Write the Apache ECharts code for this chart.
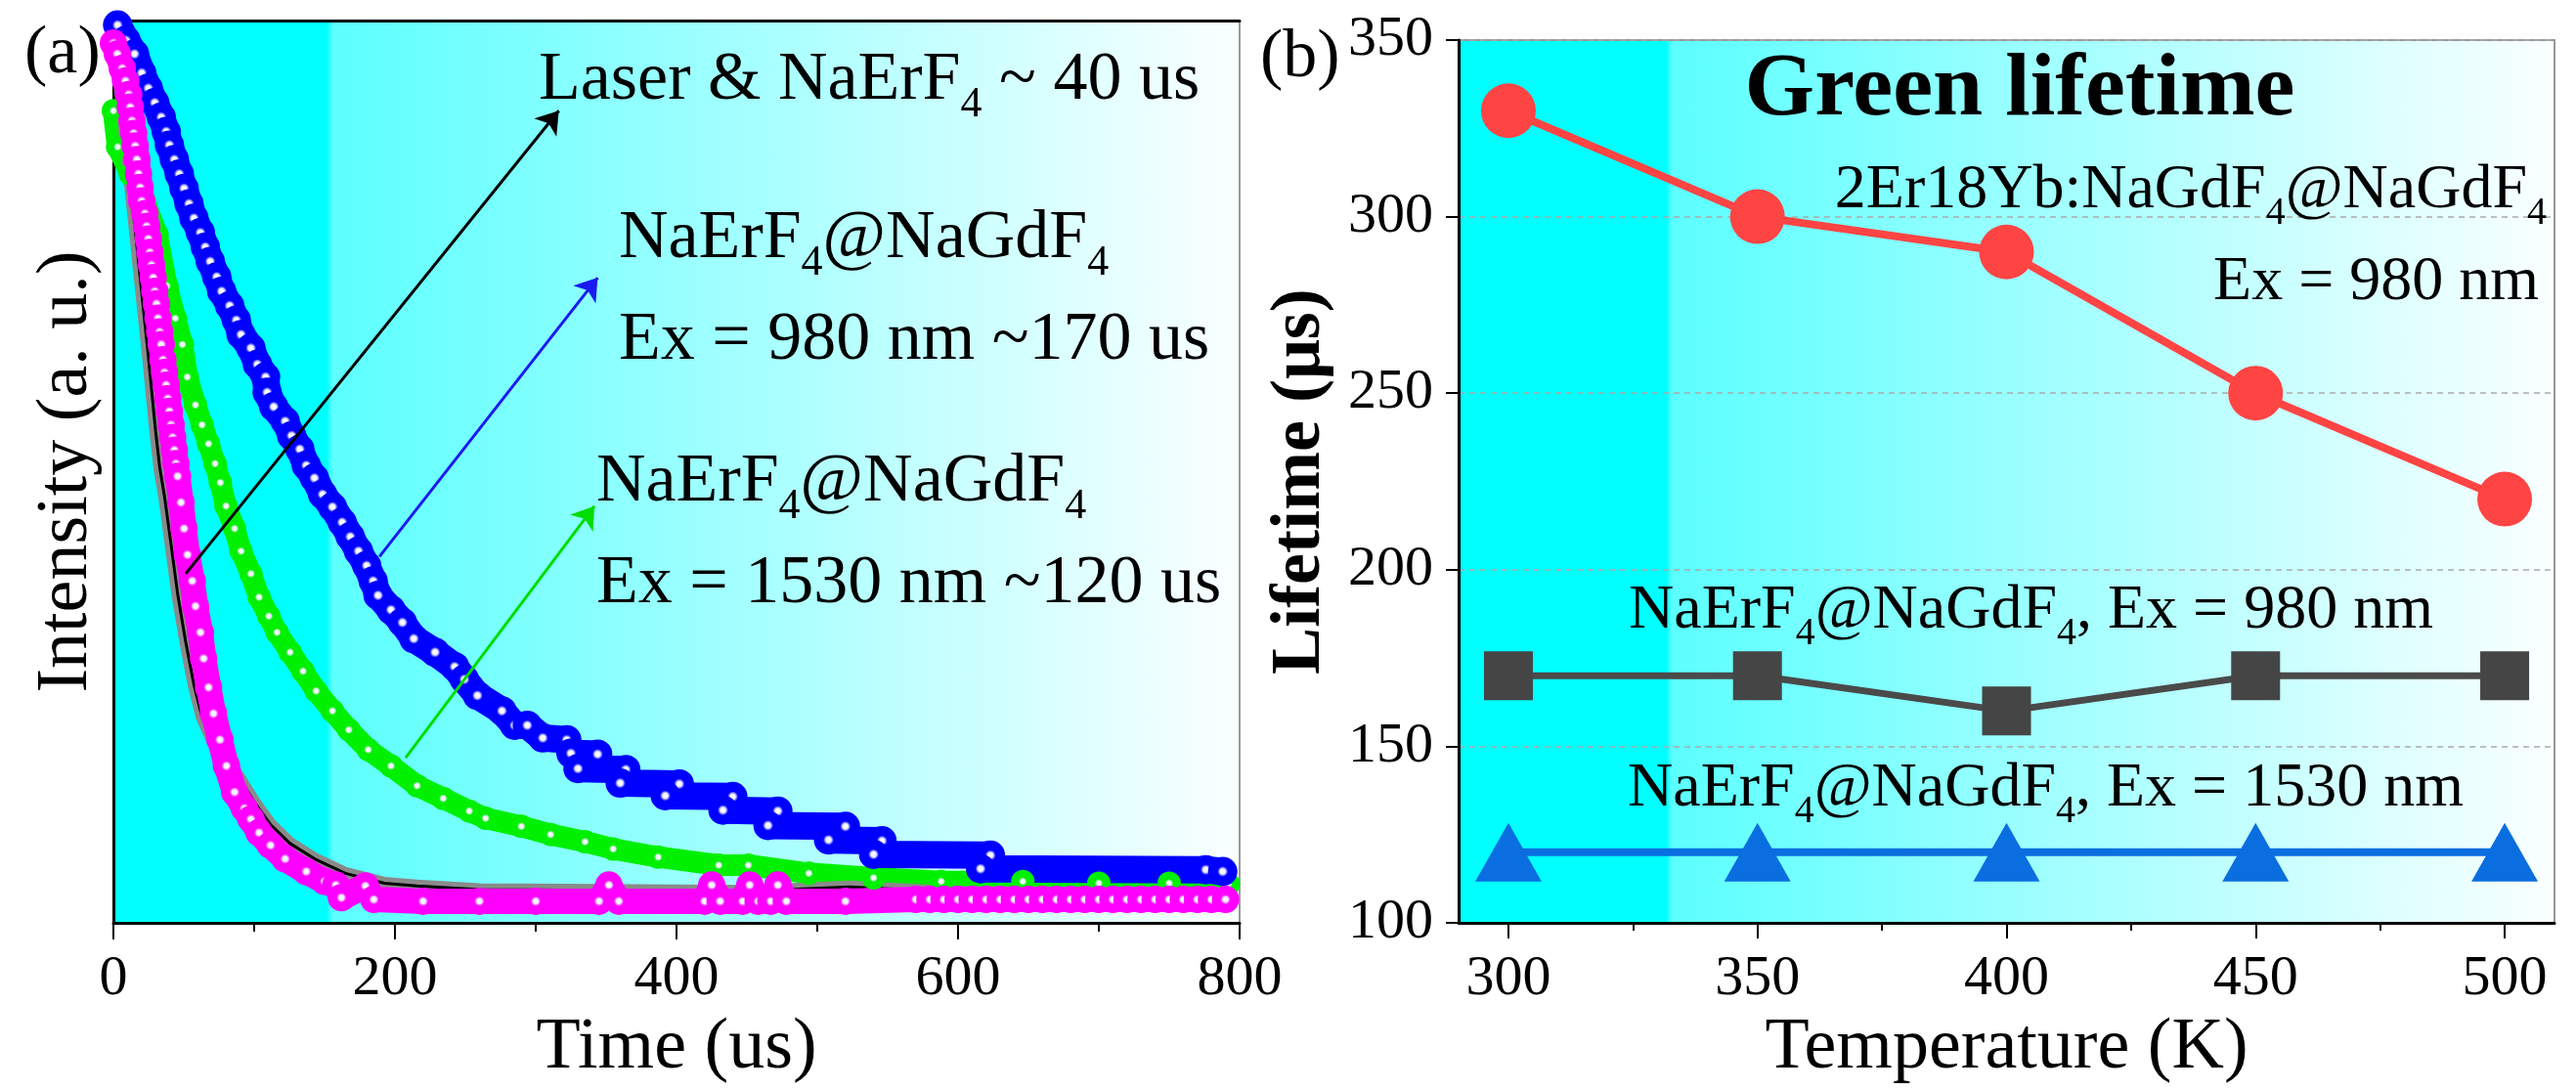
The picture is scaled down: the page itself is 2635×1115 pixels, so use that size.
<!doctype html>
<html>
<head>
<meta charset="utf-8"/>
<title>Green lifetime</title>
<script src="https://cdn.jsdelivr.net/npm/echarts@6.0.0/dist/echarts.min.js"></script>
<style>
body { margin: 0; background: #fff; }
#main { width: 2635px; height: 1115px; }
</style>
</head>
<body>
<div id="main"></div>
<script>
const FONT = 'Liberation Serif';

// (a) decay curves: [time (us), normalised intensity]
const decayGreen = [[0,0.90],[3,0.86],[12,0.83],[22,0.80],[31,0.763],[38,0.706],[44,0.67],[49,0.641],[52.5,0.605],[58.3,0.574],[63,0.552],[67.6,0.531],[72.2,0.509],[76,0.488],[80,0.462],[86.1,0.437],[90.7,0.412],[97.7,0.387],[103.5,0.361],[110.4,0.340],[116.2,0.322],[125.5,0.300],[134.7,0.279],[144,0.257],[155.6,0.235],[167.2,0.214],[181,0.192],[197.2,0.174],[215.7,0.152],[234.3,0.138],[252.8,0.124],[264.4,0.116],[289.8,0.107],[310.6,0.098],[335,0.090],[355,0.082],[387,0.073],[430,0.064],[451,0.064],[494,0.055],[540,0.050],[588,0.046],[646,0.046],[700,0.044],[750,0.044],[792,0.043]];
const decayBlue = [[3,0.995],[9,0.978],[15,0.963],[20.1,0.942],[24.8,0.925],[29.4,0.909],[34,0.893],[37.5,0.877],[39.8,0.862],[43.3,0.846],[46.8,0.830],[50.2,0.814],[53.7,0.797],[57.2,0.781],[61.8,0.765],[65.3,0.749],[68.8,0.733],[73.4,0.716],[76.9,0.700],[82.6,0.684],[87.3,0.668],[90.7,0.652],[97.7,0.637],[102.3,0.619],[108.1,0.605],[109.2,0.588],[113.9,0.572],[122,0.556],[126.6,0.540],[132.4,0.525],[137,0.507],[142.8,0.493],[148.6,0.475],[155.6,0.461],[162.5,0.444],[168.3,0.428],[174.1,0.412],[179.9,0.396],[184.5,0.379],[188,0.363],[197.2,0.347],[205.3,0.333],[213.4,0.315],[228.5,0.300],[242.4,0.284],[249.3,0.270],[258.6,0.252],[276,0.235],[285,0.219],[294,0.219],[305,0.205],[322,0.203],[325,0.188],[344,0.187],[330,0.171],[364,0.170],[360,0.155],[402,0.154],[392,0.141],[440,0.140],[433,0.125],[472,0.124],[465,0.108],[520,0.107],[508,0.092],[546,0.091],[540,0.076],[623,0.075],[616,0.060],[776,0.059],[788,0.057]];
const decayLaser = [[0,1.0],[5,0.925],[10,0.85],[15,0.775],[20,0.70],[25,0.625],[30,0.545],[32.9,0.505],[36.3,0.473],[41,0.419],[45.6,0.365],[51.4,0.311],[57.2,0.264],[63,0.228],[72.2,0.196],[88.4,0.163],[100,0.134],[111.6,0.109],[125.5,0.088],[144,0.070],[164.8,0.055],[192.6,0.044],[215.7,0.041],[260,0.037],[350,0.036],[450,0.035],[523,0.040],[600,0.034],[700,0.033],[775,0.033]];
const decayMagenta = [[0,0.975],[2.8,0.963],[6.3,0.947],[8.6,0.933],[10.9,0.918],[12,0.904],[13.2,0.889],[14.4,0.875],[15.5,0.861],[16.7,0.846],[17.8,0.830],[19,0.815],[20.1,0.800],[22.4,0.786],[23.6,0.772],[24.8,0.758],[25.9,0.743],[27.1,0.729],[28.3,0.715],[29.4,0.700],[30.6,0.686],[31.7,0.670],[32.9,0.655],[34,0.641],[35.2,0.624],[36.3,0.610],[37.5,0.596],[38.7,0.581],[39.8,0.567],[41,0.552],[42.1,0.538],[43.3,0.524],[44.4,0.509],[45.6,0.495],[48,0.466],[50.2,0.437],[52.6,0.408],[56,0.379],[58.3,0.351],[61.8,0.322],[64.1,0.293],[67.6,0.261],[71.1,0.232],[75.7,0.203],[80.3,0.174],[86.1,0.145],[93,0.127],[97.7,0.115],[103.5,0.100],[111.6,0.086],[122,0.071],[137,0.057],[150,0.046],[158,0.042],[162,0.028],[179,0.041],[185,0.026],[220,0.024],[260,0.024],[300,0.024],[345,0.024],[352,0.042],[359,0.024],[420,0.024],[425,0.042],[431,0.024],[447,0.024],[452,0.042],[458,0.024],[467,0.024],[472,0.042],[478,0.024],[520,0.024],[570,0.026],[580,0.026],[590,0.026],[600,0.026],[610,0.026],[620,0.026],[630,0.026],[640,0.026],[650,0.026],[660,0.026],[670,0.026],[680,0.026],[690,0.026],[700,0.026],[710,0.026],[720,0.026],[730,0.026],[740,0.026],[750,0.026],[760,0.026],[770,0.026],[780,0.026],[790,0.026]];

// arrows from the curves to their labels: [time, intensity]
const arrowLaser = [[51.4,0.387],[316.4,0.900]];
const arrowBlue = [[189,0.406],[344,0.715]];
const arrowGreen = [[207.6,0.183],[341.7,0.462]];

// (b) lifetime vs temperature
const temps = [300,350,400,450,500];
const lifeCore = [330,300,290,250,220];
const life980 = [170,170,160,170,170];
const life1530 = [120,120,120,120,120];
const tempTicks = [300,350,400,450,500];
const tempMinor = [325,375,425,475];

const chart = echarts.init(document.getElementById('main'));

function bg() {
    return new echarts.graphic.LinearGradient(0, 0, 1, 0, [
        {offset: 0, color: '#00ffff'},
        {offset: 0.19, color: '#00ffff'},
        {offset: 0.195, color: '#5cffff'},
        {offset: 1, color: '#fbffff'}
    ]);
}

function bead(color) {
    return new echarts.graphic.RadialGradient(0.5, 0.5, 0.5, [
        {offset: 0, color: '#ffffff'},
        {offset: 0.18, color: '#eeeeff'},
        {offset: 0.36, color: color},
        {offset: 1, color: color}
    ]);
}

function decay(data, color, size, width) {
    return {
        type: 'line', xAxisIndex: 0, yAxisIndex: 0, data: data,
        symbol: 'circle', symbolSize: size, silent: true,
        lineStyle: {color: color, width: width, cap: 'round', join: 'round'},
        itemStyle: {color: bead(color)},
        emphasis: {disabled: true}
    };
}

function arrow(pts, color) {
    return [{coord: pts[0], lineStyle: {color: color, width: 3, type: 'solid'}}, {coord: pts[1]}];
}

function richLabel(text, x, y, fs, sub, align) {
    const lh = Math.round(fs * 1.15);
    const pad = Math.round(2 * (15 + 0.3375 * (fs - sub)));
    return {
        type: 'text', x: x, y: y, silent: true, z: 100,
        style: {
            text: text, fontFamily: FONT, fontSize: fs, fill: '#000',
            align: align, verticalAlign: 'middle', lineHeight: lh,
            rich: {s: {fontFamily: FONT, fontSize: sub, fill: '#000', lineHeight: lh, padding: [pad, 0, 0, 0]}}
        }
    };
}

const axisBlack = {show: true, onZero: false, lineStyle: {color: '#000', width: 3}};
const tickFont = {fontFamily: FONT, fontSize: 58, color: '#000'};
const nameFont = {fontFamily: FONT, fontSize: 74, color: '#000'};

chart.setOption({
    animation: false,
    grid: [
        {left: 116, top: 21, width: 1152, height: 925, show: true, backgroundColor: bg(), borderColor: '#999', borderWidth: 2},
        {left: 1492, top: 41, width: 1121, height: 906, show: true, backgroundColor: bg(), borderColor: '#999', borderWidth: 2}
    ],
    xAxis: [
        {
            gridIndex: 0, type: 'value', min: 0, max: 800, interval: 200, position: 'bottom',
            axisLine: axisBlack,
            axisTick: {show: true, inside: false, length: 17, lineStyle: {color: '#000', width: 2}},
            minorTick: {show: true, splitNumber: 2, length: 9, lineStyle: {color: '#000', width: 2}},
            axisLabel: Object.assign({margin: 29}, tickFont),
            splitLine: {show: false},
            name: 'Time (us)', nameLocation: 'middle', nameGap: 73, nameTextStyle: nameFont
        },
        {
            gridIndex: 0, type: 'value', min: 0, max: 800, position: 'top',
            axisLine: axisBlack, axisTick: {show: false}, axisLabel: {show: false}, splitLine: {show: false}
        },
        {
            gridIndex: 1, type: 'value', min: 290, max: 510, position: 'bottom',
            axisLine: axisBlack,
            axisTick: {show: true, inside: false, customValues: tempTicks, length: 16, lineStyle: {color: '#000', width: 2}},
            axisLabel: Object.assign({margin: 29, customValues: tempTicks}, tickFont),
            splitLine: {show: false},
            name: 'Temperature (K)', nameLocation: 'middle', nameGap: 73, nameTextStyle: nameFont
        },
        {
            gridIndex: 1, type: 'value', min: 290, max: 510, position: 'bottom',
            axisLine: {show: false},
            axisTick: {show: true, inside: false, customValues: tempMinor, length: 8, lineStyle: {color: '#000', width: 2}},
            axisLabel: {show: false}, splitLine: {show: false}
        }
    ],
    yAxis: [
        {
            gridIndex: 0, type: 'value', min: 0, max: 1, position: 'left',
            axisLine: axisBlack, axisTick: {show: false}, axisLabel: {show: false}, splitLine: {show: false},
            name: 'Intensity (a. u.)', nameLocation: 'middle', nameGap: 10, nameTextStyle: nameFont
        },
        {
            gridIndex: 1, type: 'value', min: 100, max: 350, interval: 50, position: 'left',
            axisLine: axisBlack,
            axisTick: {show: true, inside: false, length: 13, lineStyle: {color: '#000', width: 2}},
            axisLabel: Object.assign({margin: 26}, tickFont),
            splitLine: {show: true, lineStyle: {color: '#aaa', width: 1.5, type: [6, 5]}},
            name: 'Lifetime (μs)', nameLocation: 'middle', nameGap: 126,
            nameTextStyle: {fontFamily: FONT, fontSize: 72, fontWeight: 'bold', color: '#000'}
        }
    ],
    series: [
        decay(decayGreen, '#00f000', 24, 22),
        decay(decayBlue, '#0000ff', 30, 28),
        {
            type: 'line', xAxisIndex: 0, yAxisIndex: 0, data: decayLaser, symbol: 'none', silent: true,
            lineStyle: {color: '#8a8a8a', width: 13, cap: 'round', join: 'round'}
        },
        {
            type: 'line', xAxisIndex: 0, yAxisIndex: 0, data: decayLaser, symbol: 'none', silent: true,
            lineStyle: {color: '#000', width: 3}
        },
        decay(decayMagenta, '#ff00ff', 28, 26),
        {
            type: 'line', xAxisIndex: 0, yAxisIndex: 0, data: [], silent: true,
            markLine: {
                silent: true, symbol: ['none', 'arrow'], symbolSize: 22,
                label: {show: false}, emphasis: {disabled: true},
                data: [arrow(arrowLaser, '#000'), arrow(arrowBlue, '#1a1af0'), arrow(arrowGreen, '#00dd00')]
            }
        },
        {
            type: 'line', xAxisIndex: 2, yAxisIndex: 1, silent: true,
            data: temps.map((t, i) => [t, lifeCore[i]]),
            symbol: 'circle', symbolSize: 56,
            lineStyle: {color: '#ff4444', width: 8}, itemStyle: {color: '#ff4444'}
        },
        {
            type: 'line', xAxisIndex: 2, yAxisIndex: 1, silent: true,
            data: temps.map((t, i) => [t, life980[i]]),
            symbol: 'rect', symbolSize: 50,
            lineStyle: {color: '#4a4a4a', width: 7}, itemStyle: {color: '#454545'}
        },
        {
            type: 'line', xAxisIndex: 2, yAxisIndex: 1, silent: true,
            data: temps.map((t, i) => [t, life1530[i]]),
            symbol: 'triangle', symbolSize: [68, 60],
            lineStyle: {color: '#0a6ee0', width: 8}, itemStyle: {color: '#0a6ee0'}
        }
    ],
    graphic: [
        {type: 'text', x: 25, y: 56, silent: true, style: {text: '(a)', fontFamily: FONT, fontSize: 70, fill: '#000', align: 'left', verticalAlign: 'middle'}},
        {type: 'text', x: 1289, y: 60, silent: true, style: {text: '(b)', fontFamily: FONT, fontSize: 70, fill: '#000', align: 'left', verticalAlign: 'middle'}},
        richLabel('Laser & NaErF{s|4} ~ 40 us', 551, 83, 70, 44, 'left'),
        richLabel('NaErF{s|4}@NaGdF{s|4}', 633, 245, 70, 44, 'left'),
        richLabel('Ex = 980 nm ~170 us', 633, 349, 70, 44, 'left'),
        richLabel('NaErF{s|4}@NaGdF{s|4}', 610, 494, 70, 44, 'left'),
        richLabel('Ex = 1530 nm ~120 us', 610, 598, 70, 44, 'left'),
        {type: 'text', x: 2066, y: 93, silent: true, z: 100, style: {text: 'Green lifetime', fontFamily: FONT, fontSize: 92, fontWeight: 'bold', fill: '#000', align: 'center', verticalAlign: 'middle'}},
        richLabel('2Er18Yb:NaGdF{s|4}@NaGdF{s|4}', 2605, 195, 64, 40, 'right'),
        richLabel('Ex = 980 nm', 2597, 289, 64, 40, 'right'),
        richLabel('NaErF{s|4}@NaGdF{s|4}, Ex = 980 nm', 1666, 625, 64, 40, 'left'),
        richLabel('NaErF{s|4}@NaGdF{s|4}, Ex = 1530 nm', 1665, 807, 64, 40, 'left')
    ]
});
</script>
</body>
</html>
